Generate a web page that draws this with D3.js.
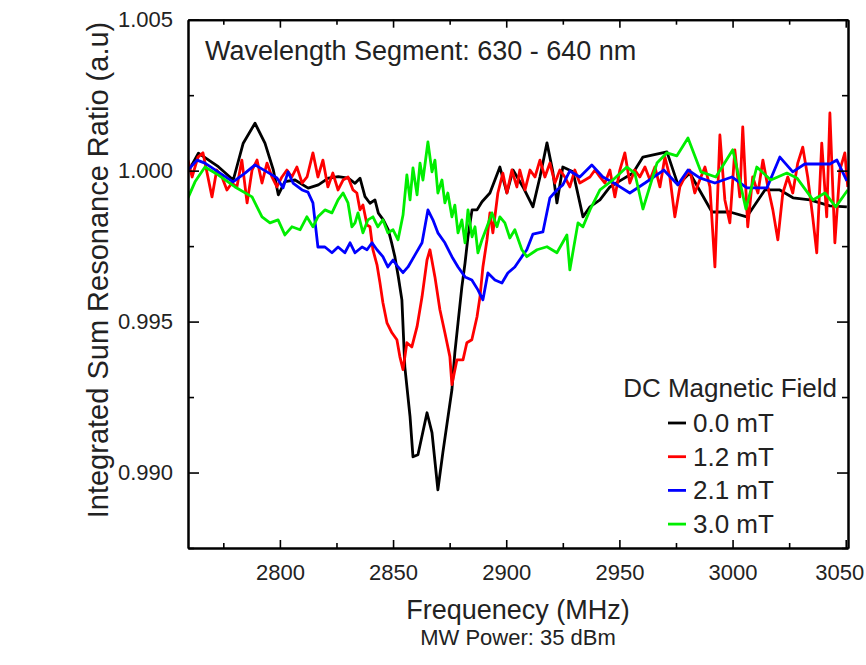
<!DOCTYPE html>
<html>
<head>
<meta charset="utf-8">
<script src="https://cdn.jsdelivr.net/npm/d3@7"></script>
<style>
  html, body { margin: 0; padding: 0; background: #fff; }
  svg { display: block; font-family: "Liberation Sans", Arial, Helvetica, sans-serif; }
</style>
</head>
<body>
<svg id="chart" width="866" height="665"></svg>
<script>
// ---------- DATA ----------
// [frequency (MHz), integrated sum resonance ratio (a.u)]
const field00 = [[2759.5,0.99997],[2764.0,1.00058],[2772.8,1.00013],[2779.4,0.99969],[2783.8,1.00091],[2789.0,1.00157],[2793.4,1.00091],[2797.1,1.00002],[2799.3,0.99920],[2802.2,0.99964],[2806.7,0.99969],[2812.5,0.99942],[2817.0,0.99953],[2821.4,0.99975],[2825.8,0.99980],[2830.2,0.99975],[2833.2,0.99958],[2835.4,0.99975],[2837.6,0.99914],[2839.8,0.99892],[2842.0,0.99903],[2843.5,0.99859],[2845.7,0.99837],[2847.9,0.99804],[2849.4,0.99760],[2850.8,0.99715],[2852.3,0.99649],[2853.9,0.99572],[2855.2,0.99350],[2857.5,0.99185],[2858.8,0.99052],[2861.0,0.99059],[2865.0,0.99198],[2867.2,0.99132],[2869.8,0.98943],[2872.0,0.99066],[2876.0,0.99274],[2877.3,0.99397],[2878.7,0.99496],[2880.4,0.99615],[2881.8,0.99694],[2883.1,0.99781],[2884.9,0.99870],[2887.1,0.99870],[2889.3,0.99897],[2892.8,0.99926],[2897.2,1.00012],[2900.3,0.99926],[2903.0,1.00002],[2907.4,0.99946],[2911.8,0.99880],[2914.9,0.99979],[2918.0,1.00092],[2920.6,0.99996],[2922.4,0.99893],[2925.0,1.00012],[2929.5,0.99996],[2933.9,0.99847],[2937.0,0.99880],[2941.4,0.99903],[2945.8,0.99946],[2950.2,0.99966],[2956.0,0.99992],[2960.4,1.00045],[2971.0,1.00062],[2975.9,0.99953],[2981.1,0.99992],[2990.9,0.99863],[2998.8,0.99863],[3006.3,0.99847],[3014.3,0.99936],[3020.9,0.99936],[3026.7,0.99910],[3034.2,0.99903],[3043.0,0.99883],[3050.5,0.99880]];

const field12 = [[2759.4,1.00035],[2761.2,0.99979],[2763.8,1.00045],[2766.0,1.00059],[2768.2,0.99979],[2770.0,0.99913],[2772.1,1.00002],[2774.4,0.99979],[2776.6,0.99936],[2778.8,0.99959],[2781.0,0.99946],[2783.2,1.00035],[2785.5,0.99893],[2787.7,1.00002],[2789.9,1.00035],[2792.1,0.99959],[2794.3,1.00025],[2796.5,0.99979],[2798.7,0.99946],[2800.9,0.99979],[2803.1,1.00002],[2805.3,0.99979],[2807.5,1.00012],[2809.8,0.99959],[2812.0,0.99979],[2814.6,1.00059],[2816.8,0.99979],[2819.0,1.00035],[2821.2,0.99946],[2823.4,0.99992],[2825.7,0.99936],[2827.9,0.99969],[2830.1,0.99979],[2832.3,0.99936],[2834.0,0.99926],[2835.4,0.99870],[2836.7,0.99886],[2838.5,0.99820],[2839.8,0.99814],[2841.1,0.99738],[2842.9,0.99688],[2844.2,0.99629],[2845.5,0.99563],[2847.3,0.99496],[2849.5,0.99463],[2851.7,0.99440],[2853.0,0.99384],[2854.4,0.99341],[2856.1,0.99430],[2858.3,0.99416],[2860.6,0.99483],[2862.8,0.99582],[2865.0,0.99704],[2866.3,0.99738],[2868.5,0.99648],[2870.7,0.99539],[2872.9,0.99463],[2875.1,0.99384],[2876.0,0.99291],[2878.2,0.99373],[2880.9,0.99373],[2882.6,0.99430],[2884.8,0.99440],[2887.1,0.99516],[2888.4,0.99582],[2889.7,0.99681],[2891.5,0.99771],[2892.8,0.99860],[2894.1,0.99794],[2896.3,0.99926],[2898.5,0.99992],[2900.3,0.99926],[2902.5,1.00002],[2904.7,0.99946],[2906.0,1.00002],[2908.3,0.99936],[2910.5,1.00002],[2912.7,0.99979],[2914.9,1.00035],[2917.1,0.99979],[2919.3,1.00025],[2921.5,0.99959],[2923.7,1.00002],[2925.9,0.99979],[2928.1,0.99946],[2930.3,1.00002],[2932.5,0.99959],[2934.8,0.99969],[2937.0,0.99979],[2939.2,1.00002],[2941.4,0.99979],[2943.6,0.99959],[2945.8,1.00002],[2948.0,0.99913],[2950.2,1.00002],[2952.4,1.00059],[2954.6,0.99959],[2956.8,1.00002],[2959.0,0.99979],[2961.3,1.00012],[2963.5,0.99969],[2965.7,1.00012],[2967.9,0.99946],[2970.1,1.00045],[2972.3,0.99979],[2974.5,0.99847],[2976.7,0.99946],[2978.9,0.99979],[2981.1,1.00002],[2983.3,0.99926],[2985.5,0.99969],[2987.8,1.00012],[2990.0,0.99946],[2992.2,0.99681],[2994.4,1.00118],[2996.6,0.99903],[2998.8,0.99827],[3001.0,1.00069],[3003.2,0.99913],[3004.5,1.00145],[3006.7,0.99814],[3008.9,0.99979],[3011.2,0.99926],[3013.4,1.00035],[3015.6,0.99946],[3017.8,0.99870],[3020.0,0.99771],[3022.2,0.99926],[3024.4,0.99979],[3026.6,0.99926],[3028.8,1.00025],[3031.0,1.00078],[3033.2,0.99979],[3035.4,0.99847],[3037.2,0.99728],[3039.4,1.00091],[3041.6,0.99847],[3043.0,1.00191],[3045.2,0.99761],[3047.4,1.00002],[3049.6,1.00059],[3050.9,0.99946]];

const field21 = [[2759.4,1.00002],[2763.4,1.00035],[2766.9,1.00025],[2772.7,0.99996],[2779.3,0.99963],[2784.6,0.99992],[2789.0,1.00019],[2794.3,0.99996],[2798.7,0.99976],[2801.4,0.99943],[2803.6,0.99996],[2805.8,0.99959],[2809.8,0.99936],[2812.4,0.99929],[2814.6,0.99893],[2816.8,0.99747],[2819.9,0.99747],[2823.0,0.99728],[2825.7,0.99747],[2828.7,0.99728],[2831.0,0.99761],[2833.2,0.99728],[2836.3,0.99747],[2838.5,0.99738],[2840.7,0.99761],[2842.9,0.99738],[2845.5,0.99715],[2847.7,0.99681],[2850.0,0.99704],[2852.2,0.99681],[2854.4,0.99662],[2856.6,0.99681],[2859.7,0.99721],[2862.8,0.99761],[2865.4,0.99870],[2867.6,0.99837],[2869.8,0.99794],[2872.9,0.99761],[2876.0,0.99715],[2878.7,0.99681],[2881.8,0.99648],[2884.8,0.99638],[2887.5,0.99605],[2889.7,0.99572],[2891.9,0.99661],[2895.0,0.99638],[2898.1,0.99628],[2900.7,0.99661],[2903.8,0.99681],[2906.9,0.99715],[2909.1,0.99738],[2911.8,0.99790],[2916.2,0.99797],[2919.3,0.99910],[2922.4,0.99936],[2925.0,0.99953],[2928.1,0.99999],[2932.5,0.99979],[2937.8,1.00019],[2942.7,0.99979],[2948.9,0.99953],[2954.6,0.99926],[2961.3,0.99959],[2969.6,1.00002],[2975.8,0.99953],[2980.3,1.00002],[2985.5,0.99976],[2992.2,0.99959],[2999.7,0.99979],[3006.3,0.99943],[3015.2,0.99943],[3020.9,1.00045],[3026.6,0.99996],[3031.9,1.00022],[3043.0,1.00022],[3046.1,1.00035],[3050.5,0.99966]];

const field30 = [[2759.4,0.99910],[2762.5,0.99963],[2766.9,1.00012],[2772.7,0.99986],[2780.2,0.99946],[2787.7,0.99913],[2792.1,0.99847],[2795.6,0.99827],[2799.2,0.99837],[2802.2,0.99787],[2805.3,0.99814],[2808.9,0.99804],[2811.9,0.99847],[2814.6,0.99814],[2816.8,0.99847],[2819.9,0.99870],[2823.0,0.99860],[2825.7,0.99903],[2827.9,0.99926],[2830.1,0.99893],[2831.8,0.99814],[2833.2,0.99827],[2834.5,0.99860],[2836.7,0.99794],[2838.9,0.99837],[2841.1,0.99847],[2843.3,0.99814],[2845.5,0.99837],[2847.7,0.99794],[2850.0,0.99804],[2852.2,0.99771],[2854.4,0.99853],[2856.1,0.99986],[2857.5,0.99903],[2858.8,1.00009],[2860.6,0.99920],[2861.9,1.00025],[2863.2,0.99969],[2865.4,1.00095],[2867.2,0.99996],[2868.5,1.00035],[2869.8,0.99926],[2871.6,0.99969],[2872.9,0.99893],[2874.2,0.99926],[2876.0,0.99847],[2877.3,0.99886],[2878.7,0.99794],[2880.4,0.99837],[2881.8,0.99761],[2883.1,0.99870],[2884.9,0.99781],[2886.2,0.99814],[2887.5,0.99728],[2889.3,0.99771],[2891.5,0.99814],[2893.7,0.99860],[2895.9,0.99814],[2897.2,0.99847],[2899.4,0.99827],[2901.6,0.99777],[2903.8,0.99804],[2906.9,0.99738],[2909.1,0.99715],[2913.6,0.99738],[2918.0,0.99748],[2922.4,0.99728],[2926.8,0.99787],[2928.1,0.99671],[2931.7,0.99827],[2933.9,0.99814],[2937.0,0.99870],[2941.4,0.99936],[2947.1,0.99969],[2953.3,1.00012],[2956.8,0.99992],[2960.4,0.99873],[2966.6,1.00025],[2971.0,1.00059],[2975.4,1.00049],[2980.3,1.00108],[2986.0,0.99996],[2992.6,0.99979],[3000.1,1.00069],[3005.9,0.99873],[3010.7,1.00012],[3016.9,0.99969],[3024.0,0.99992],[3028.4,0.99976],[3035.5,0.99903],[3040.8,0.99926],[3045.6,0.99880],[3050.9,0.99936]];

const seriesNames = ["0.0 mT", "1.2 mT", "2.1 mT", "3.0 mT"];
const seriesColors = ["#000000", "#ff0000", "#0000ff", "#00ee00"];
const seriesData = [field00, field12, field21, field30];

const xTicks = [2800, 2850, 2900, 2950, 3000, 3050];
const xMinorTicks = [2775, 2825, 2875, 2925, 2975, 3025];
const yTicks = [0.990, 0.995, 1.000, 1.005];
const yMinorTicks = [0.9875, 0.9925, 0.9975, 1.0025];

const xTitle = "Frequenecy (MHz)";
const xSubtitle = "MW Power: 35 dBm";
const yTitle = "Integrated Sum Resonance Ratio (a.u)";
const annotation = "Wavelength Segment: 630 - 640 nm";
const legendTitle = "DC Magnetic Field";

// ---------- LAYOUT ----------
const svg = d3.select("#chart");
const L = 188, R = 848, T = 19.7, B = 548;

const x = d3.scaleLinear().domain([2759.4, 3051]).range([L, R]);
const y = d3.scaleLinear().domain([0.9875, 1.005]).range([B, T]);

svg.append("rect").attr("width", 866).attr("height", 665).attr("fill", "#fff");

svg.append("clipPath").attr("id", "plotclip")
  .append("rect").attr("x", L).attr("y", T).attr("width", R - L).attr("height", B - T);

// ---------- LINES ----------
const line = d3.line().x(d => x(d[0])).y(d => y(d[1]));
const lines = svg.append("g").attr("clip-path", "url(#plotclip)");
seriesData.forEach((data, i) => {
  lines.append("path")
    .datum(data)
    .attr("d", line)
    .attr("fill", "none")
    .attr("stroke", seriesColors[i])
    .attr("stroke-width", 2.8)
    .attr("stroke-linejoin", "round");
});

// ---------- AXES ----------
function styleAxis(g) {
  g.selectAll(".domain").attr("stroke", "#000").attr("stroke-width", 2);
  g.selectAll(".tick line").attr("stroke", "#000").attr("stroke-width", 1.6);
  g.selectAll("text").attr("fill", "#222").attr("font-size", 22)
    .attr("font-family", "'Liberation Sans', Arial, sans-serif");
}

// bottom
const bottomAxis = svg.append("g").attr("transform", `translate(0,${B})`)
  .call(d3.axisBottom(x).tickValues(xTicks).tickSize(-8).tickSizeOuter(0).tickPadding(16).tickFormat(d3.format("d")))
  .call(styleAxis);
// keep the last label inside the window
bottomAxis.selectAll(".tick text").filter(d => d === 3050).attr("text-anchor", "end").attr("dx", 18);
svg.append("g").attr("transform", `translate(0,${B})`)
  .call(d3.axisBottom(x).tickValues(xMinorTicks).tickSize(-5).tickSizeOuter(0).tickFormat(""))
  .call(styleAxis);
// top
svg.append("g").attr("transform", `translate(0,${T})`)
  .call(d3.axisTop(x).tickValues(xTicks).tickSize(-8).tickSizeOuter(0).tickFormat(""))
  .call(styleAxis);
svg.append("g").attr("transform", `translate(0,${T})`)
  .call(d3.axisTop(x).tickValues(xMinorTicks).tickSize(-5).tickSizeOuter(0).tickFormat(""))
  .call(styleAxis);
// left
svg.append("g").attr("transform", `translate(${L},0)`)
  .call(d3.axisLeft(y).tickValues(yTicks).tickSize(-11).tickSizeOuter(0).tickPadding(15).tickFormat(d3.format(".3f")))
  .call(styleAxis);
svg.append("g").attr("transform", `translate(${L},0)`)
  .call(d3.axisLeft(y).tickValues(yMinorTicks).tickSize(-6).tickSizeOuter(0).tickFormat(""))
  .call(styleAxis);
// right
svg.append("g").attr("transform", `translate(${R},0)`)
  .call(d3.axisRight(y).tickValues(yTicks).tickSize(-11).tickSizeOuter(0).tickFormat(""))
  .call(styleAxis);
svg.append("g").attr("transform", `translate(${R},0)`)
  .call(d3.axisRight(y).tickValues(yMinorTicks).tickSize(-6).tickSizeOuter(0).tickFormat(""))
  .call(styleAxis);

// ---------- TEXT ----------
svg.append("text")
  .attr("x", (L + R) / 2).attr("y", 619)
  .attr("text-anchor", "middle").attr("font-size", 27).attr("fill", "#222")
  .text(xTitle);
svg.append("text")
  .attr("x", (L + R) / 2).attr("y", 645)
  .attr("text-anchor", "middle").attr("font-size", 22).attr("fill", "#222")
  .text(xSubtitle);
svg.append("text")
  .attr("transform", "translate(108,270) rotate(-90)")
  .attr("text-anchor", "middle").attr("font-size", 29).attr("fill", "#222")
  .text(yTitle);
svg.append("text")
  .attr("x", 205).attr("y", 60)
  .attr("font-size", 27).attr("fill", "#222")
  .text(annotation);

// ---------- LEGEND ----------
const lg = svg.append("g");
lg.append("text")
  .attr("x", 837).attr("y", 397)
  .attr("text-anchor", "end").attr("font-size", 26).attr("fill", "#222")
  .text(legendTitle);
seriesNames.forEach((name, i) => {
  const by = 432 + i * 33.7;
  lg.append("line")
    .attr("x1", 668).attr("x2", 686).attr("y1", by - 9).attr("y2", by - 9)
    .attr("stroke", seriesColors[i]).attr("stroke-width", 2.8);
  lg.append("text")
    .attr("x", 693).attr("y", by)
    .attr("font-size", 26).attr("fill", "#222")
    .text(name);
});
</script>
</body>
</html>
